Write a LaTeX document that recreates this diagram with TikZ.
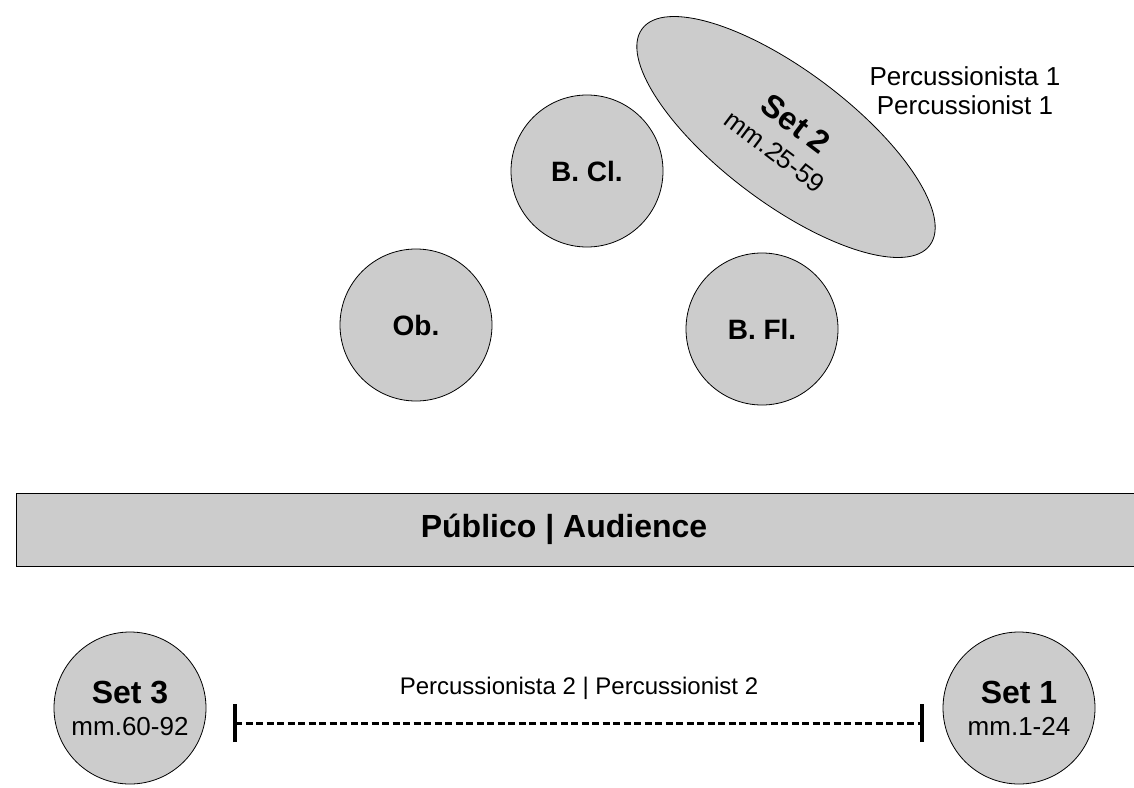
\documentclass[tikz,border=0pt]{standalone}
\usepackage{fontspec}
\setmainfont{Liberation Sans}
\usetikzlibrary{positioning, shapes.geometric}

\begin{document}
\begin{tikzpicture}[x=1pt, y=-1pt,
    player/.style={circle, draw=black, line width=0.8pt, fill=gray!40,
                   minimum size=152pt, inner sep=0pt, align=center},
    instr/.style={font=\fontsize{28}{32}\selectfont\bfseries},
    setlabel/.style={font=\fontsize{26}{32}\selectfont},
    perc/.style={font=\fontsize{26}{29}\selectfont, align=center, inner sep=0pt}]
    \useasboundingbox (0,0) rectangle (1134,787);

    % Players on stage
        \node[player, instr] (ob) at (416,325) {Ob.};
        \node[player, instr] (bcl) at (587,171) {B. Cl.};
        \node[player, instr] (bfl) at (762,329) {B. Fl.};
        \node[ellipse,
              rotate=-37,
              draw=black,
              line width=0.8pt,
              fill=gray!40,
              minimum width=360pt,
              minimum height=132pt,
              inner sep=0pt,
              align=center,
              setlabel] (set2) at (786,137)
              {{\fontsize{32}{32}\selectfont\bfseries Set 2}\\[1pt]mm.25-59};
        \node[perc] (perc1) at (965,91) {Percussionista 1\\Percussionist 1};

    % Audience
        \draw[line width=0.8pt, fill=gray!40] (16,493) rectangle (1140,566);
        \node[font=\fontsize{32}{36}\selectfont\bfseries] (aud) at (564,529)
              {Público | Audience};

    % Sets of percussionist 2
        \node[player, setlabel] (set3) at (130,708)
              {{\fontsize{32}{32}\selectfont\bfseries Set 3}\\mm.60-92};
        \node[player, setlabel] (set1) at (1019,708)
              {{\fontsize{32}{32}\selectfont\bfseries Set 1}\\mm.1-24};

        \coordinate (dl) at (235,723);
        \coordinate (dr) at (922,723);
        \draw[line width=3pt, dash pattern=on 7pt off 3.5pt] (dl) -- (dr);
        \draw[line width=4.5pt]
            ([yshift=-19pt]dl) -- ([yshift=19pt]dl)
            ([yshift=-19pt]dr) -- ([yshift=19pt]dr);
        \node[perc, font=\fontsize{24}{29}\selectfont] (perc2) at (579,688)
              {Percussionista 2 | Percussionist 2};
\end{tikzpicture}
\end{document}
